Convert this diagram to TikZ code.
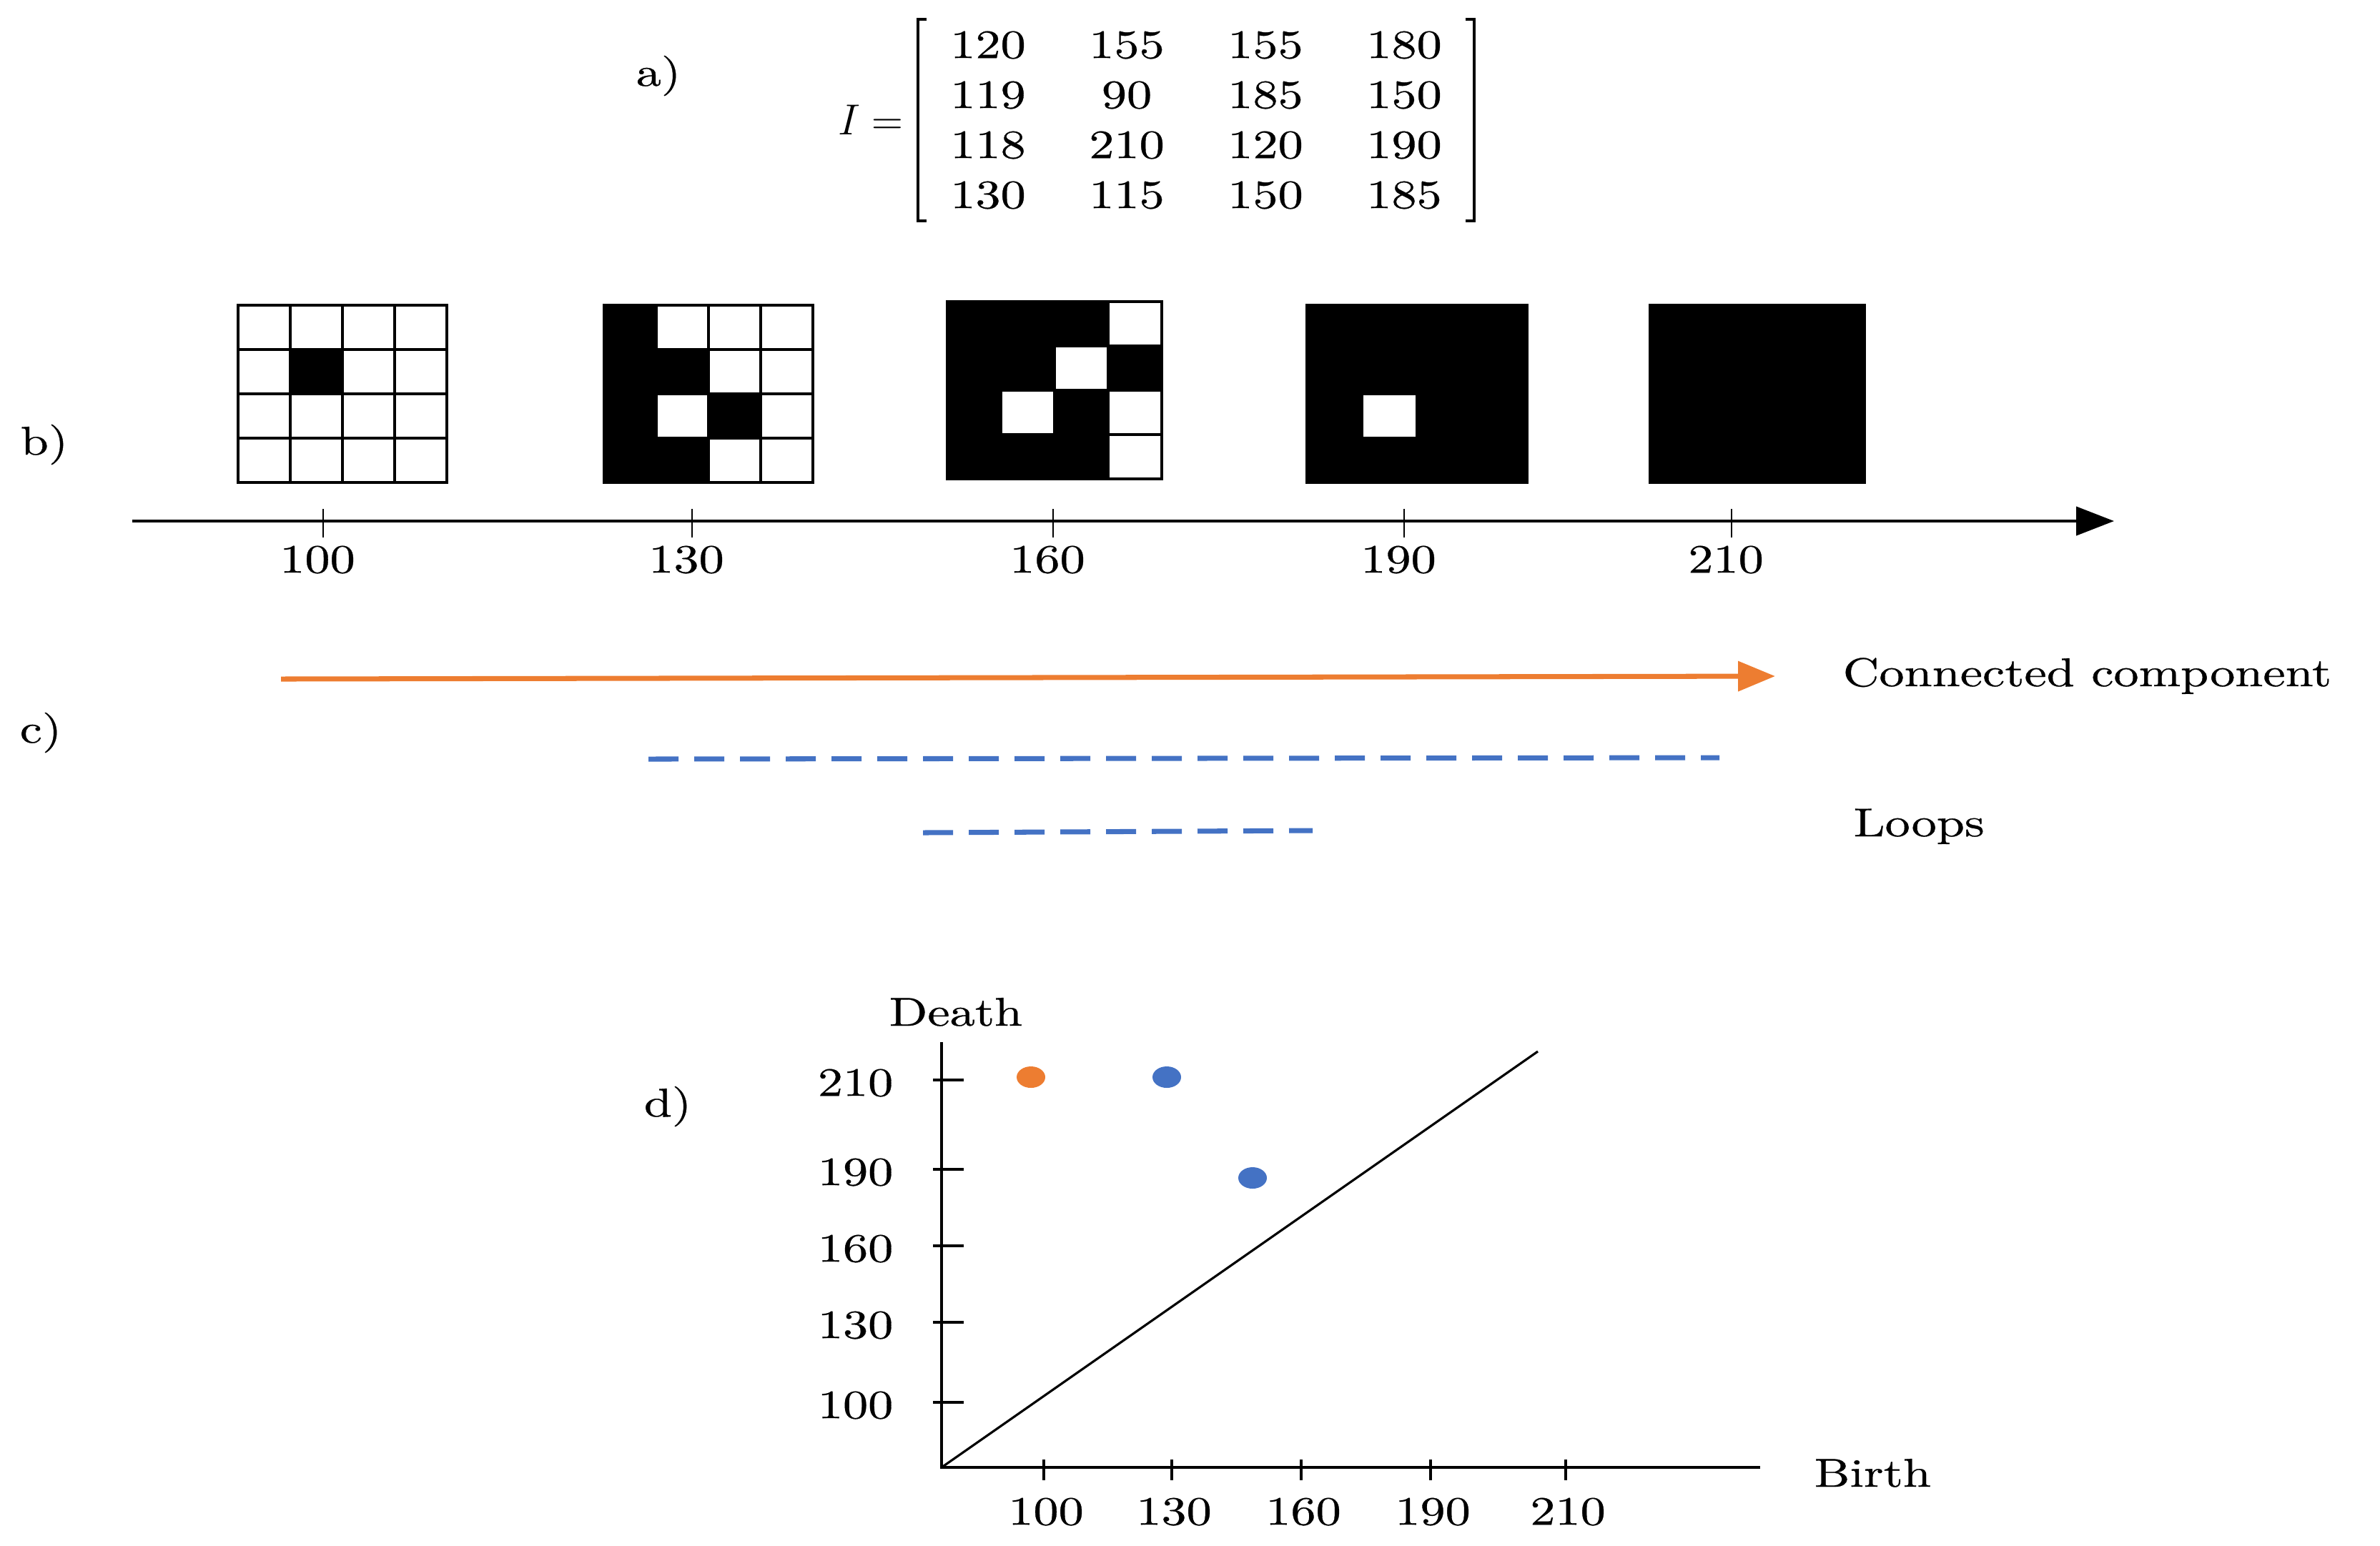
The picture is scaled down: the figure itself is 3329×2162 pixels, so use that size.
\documentclass[tikz,border=0pt]{standalone}
\usepackage{fontspec}
\setmainfont{lmroman10-regular.otf}[FakeStretch=1.25,FakeBold=0.6]
\usetikzlibrary{arrows.meta,matrix,positioning}
\definecolor{ccorange}{HTML}{ED7D31}
\definecolor{loopblue}{HTML}{4472C4}

\begin{document}
\begin{tikzpicture}[x=0.1mm,y=-0.1mm,inner sep=0pt,font=\fontsize{16}{19}\selectfont]
\tikzset{
% pixel cells, axes and bars
cell/.style={draw,line width=0.9pt},
axis line/.style={line width=1.2pt},
tick/.style={line width=0.7pt},
bar/.style={line width=2pt},
bracket/.style={line width=1.1pt}
}
\tikzstyle{label above}=[anchor=base west]
\useasboundingbox (0,0) rectangle (3329,2162);

% a) The image
\matrix (m) at (1673,168) [matrix of nodes,
  nodes={minimum width=19.4mm,minimum height=7mm,anchor=center}]{
120 & 155 & 155 & 180 \\
119 & 90 & 185 & 150 \\
118 & 210 & 120 & 190 \\
130 & 115 & 150 & 185 \\
};
\draw[bracket] ([xshift=1.2mm]m.north west) -- (m.north west) -- (m.south west) -- ++(12,0);
\draw[bracket] ([xshift=-1.2mm]m.north east) -- (m.north east) -- (m.south east) -- ++(-12,0);
\node[left=2mm of m] (I) {$I =$};
\node (a) at (921,106) {a)};

% b) Sublevel sets
\foreach \thr/\gx/\gy/\w in {100/333/427/73,130/845/427/73,160/1325/422/75,190/1828/427/77,210/2308/427/75}{
  \foreach \val [count=\k from 0] in {120,155,155,180,119,90,185,150,118,210,120,190,130,115,150,185}{
    \pgfmathtruncatemacro\cx{mod(\k,4)}
    \pgfmathtruncatemacro\cy{div(\k,4)}
    \ifnum\val>\thr \def\cellcol{white}\else\def\cellcol{black}\fi
    \draw[cell,fill=\cellcol] (\gx+\w*\cx,\gy+62*\cy) rectangle ++(\w,62);
  }
}
\coordinate (b0) at (185,729);
\coordinate (b1) at (2957,729);
\draw[axis line,-{Triangle[length=5.3mm,width=4mm]}] (b0) -- (b1);
\foreach \val/\x in {100/452,130/968,160/1473,190/1964,210/2422}{
  \draw[tick] (\x,712) -- (\x,752);
  \node (t\val) at (\x-8,783) {\val};
}
\node (b) at (62,622) {b)};

% c) Barcode
\coordinate (c0) at (393,950);
\coordinate (c1) at (2483,946);
\draw[bar,ccorange,-{Triangle[length=5.2mm,width=4.1mm]}] (c0) -- (c1);
\node[label above] (cc) at (2577,960) {Connected component};
\coordinate (l0) at (907,1062);
\coordinate (l1) at (2405,1060);
\coordinate (l2) at (1291,1165);
\coordinate (l3) at (1836,1162);
\draw[bar,loopblue,dash pattern=on 4.2mm off 2.2mm] (l0) -- (l1);
\draw[bar,loopblue,dash pattern=on 4.2mm off 2.2mm] (l2) -- (l3);
\node[label above] (lp) at (2592,1170) {Loops};
\node (c) at (57,1025) {c)};

% d) Persistence diagram
\coordinate (o) at (1317,2053);
\coordinate (ytop) at (1317,1458);
\coordinate (xend) at (2462,2053);
\coordinate (diag) at (2151,1471);
\draw[axis line] (ytop) -- (o) -- (xend);
\draw[line width=0.9pt] (o) -- (diag);
\foreach \val/\y in {210/1511,190/1636,160/1743,130/1850,100/1962}{
  \draw[axis line] (1305,\y) -- (1348,\y);
  \node[anchor=east] (y\val) at (1250,\y+4) {\val};
}
\foreach \val/\x in {100/1460,130/1639,160/1820,190/2001,210/2190}{
  \draw[axis line] (\x,2042) -- (\x,2071);
  \node (x\val) at (\x+3,2115) {\val};
}
\fill[ccorange] (1442,1507) ellipse [x radius=2mm,y radius=1.5mm];
\fill[loopblue] (1632,1507) ellipse [x radius=2mm,y radius=1.5mm];
\fill[loopblue] (1752,1648) ellipse [x radius=2mm,y radius=1.5mm];
\node[label above] (death) at (1243,1435) {Death};
\node[label above] (birth) at (2537,2080) {Birth};
\node (d) at (934,1548) {d)};
\end{tikzpicture}
\end{document}
